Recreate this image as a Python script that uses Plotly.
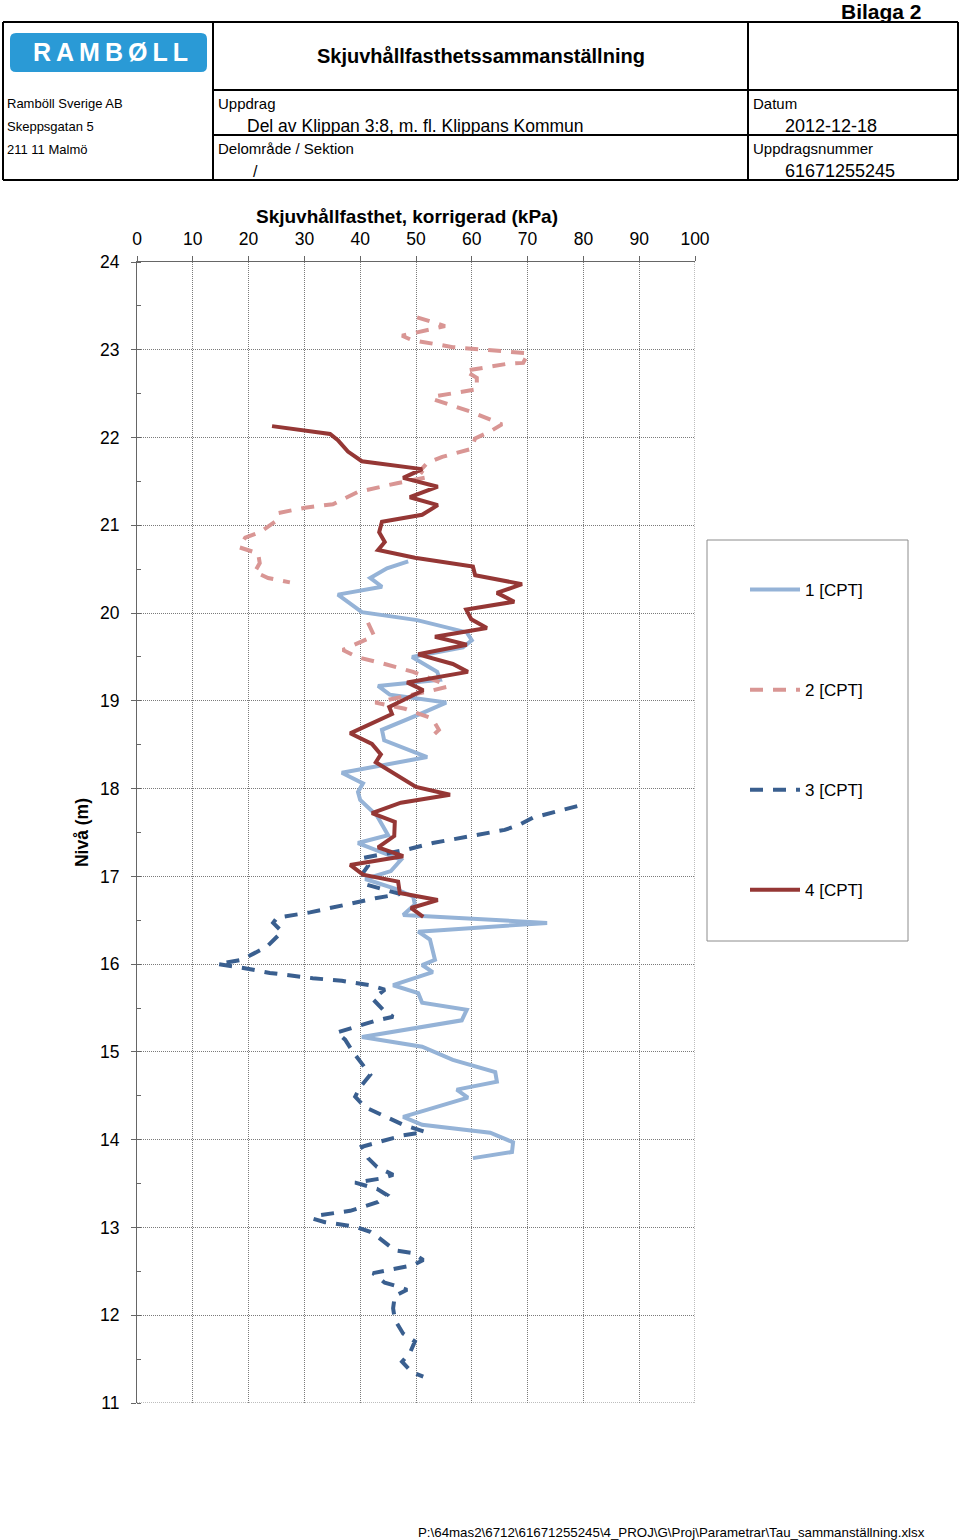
import plotly.graph_objects as go

# ---------------- data ----------------
s1_kpa = [48.6, 44.8, 41.8, 43.9, 36.0, 40.3, 50.2, 59.1, 60.0, 58.4, 49.3, 53.8, 54.3, 43.2, 45.3,
          55.4, 51.1, 43.9, 44.3, 52.0, 36.7, 40.5, 39.6, 40.0, 43.0, 45.0, 39.6, 47.3, 45.5, 40.9,
          46.2, 49.5, 49.8, 47.7, 73.5, 50.4, 52.5, 53.4, 51.1, 53.0, 45.9, 50.4, 51.1, 59.1, 58.2,
          50.2, 40.3, 51.1, 56.6, 64.2, 64.5, 57.3, 59.3, 47.7, 51.1, 63.3, 67.4, 67.2, 60.2]
s1_niva = [20.59, 20.51, 20.40, 20.30, 20.21, 20.01, 19.92, 19.78, 19.69, 19.61, 19.50, 19.33, 19.24, 19.17, 19.07,
           18.98, 18.86, 18.67, 18.55, 18.36, 18.18, 18.06, 17.96, 17.87, 17.69, 17.47, 17.38, 17.19, 17.06, 16.97,
           16.86, 16.77, 16.68, 16.56, 16.47, 16.37, 16.28, 16.05, 15.99, 15.91, 15.76, 15.67, 15.56, 15.48, 15.36,
           15.27, 15.17, 15.06, 14.91, 14.77, 14.66, 14.57, 14.48, 14.26, 14.17, 14.08, 13.97, 13.86, 13.79]

s2_kpa = [50.2, 55.2, 47.5, 49.3, 56.6, 61.8, 67.2, 70.1, 69.2, 66.3, 58.8, 60.9, 60.9, 53.4, 52.9,
          60.0, 65.4, 63.3, 60.6, 59.9, 54.7, 52.0, 50.7, 52.2, 46.6, 39.6, 35.1, 30.1, 25.3, 24.7,
          22.0, 19.4, 18.3, 21.7, 22.0, 21.1, 23.5, 27.4, None,
          41.4, 42.5, 36.9, 39.4, 44.4, 49.5, 54.3, 55.6, 53.0, 42.7, 48.0, 52.9, 54.1, 52.5]
s2_niva = [23.37, 23.27, 23.16, 23.11, 23.03, 23.00, 22.97, 22.96, 22.85, 22.84, 22.76, 22.68, 22.55, 22.47, 22.44,
           22.29, 22.15, 22.07, 21.99, 21.87, 21.78, 21.71, 21.62, 21.55, 21.48, 21.38, 21.24, 21.20, 21.14, 21.04,
           20.92, 20.86, 20.75, 20.68, 20.57, 20.47, 20.40, 20.35, None,
           19.89, 19.74, 19.58, 19.50, 19.42, 19.33, 19.21, 19.16, 19.12, 18.98, 18.91, 18.80, 18.67, 18.57]

s3_kpa = [78.9, 76.3, 72.8, 71.0, 68.6, 65.9, 63.3, 57.9, 53.0, 48.0, 43.2, 40.5, 41.4, 40.5, 40.9,
          47.1, 42.7, 36.9, 31.0, 25.1, 24.4, 26.0, 23.3, 18.8, 14.5, 18.8, 23.8, 31.5, 34.2, 36.7,
          41.8, 44.4, 42.3, 44.1, 45.9, 43.0, 35.8, 37.3, 38.7, 40.5, 41.8, 40.0, 39.1, 40.9, 47.7,
          51.6, 47.7, 40.3, 41.4, 43.0, 45.9, 43.9, 39.1, 43.0, 44.8, 43.2, 38.2, 32.8, 31.5, 33.7,
          39.1, 41.8, 43.2, 46.2, 49.3, 51.3, 49.5, 42.3, 44.4, 46.6, 48.4, 46.2, 45.9, 46.2, 47.7,
          49.8, 48.9, 47.5, 49.3, 51.3]
s3_niva = [17.80, 17.76, 17.70, 17.67, 17.59, 17.53, 17.50, 17.44, 17.38, 17.30, 17.24, 17.21, 17.12, 17.04, 16.91,
           16.80, 16.75, 16.67, 16.59, 16.53, 16.47, 16.37, 16.20, 16.05, 16.00, 15.96, 15.90, 15.84, 15.83, 15.81,
           15.76, 15.71, 15.60, 15.48, 15.40, 15.36, 15.22, 15.14, 15.00, 14.85, 14.74, 14.60, 14.49, 14.37, 14.17,
           14.09, 14.05, 13.92, 13.79, 13.69, 13.60, 13.56, 13.51, 13.44, 13.37, 13.29, 13.19, 13.14, 13.10, 13.06,
           13.01, 12.95, 12.89, 12.74, 12.71, 12.63, 12.57, 12.48, 12.37, 12.33, 12.29, 12.22, 12.08, 11.95, 11.79,
           11.70, 11.57, 11.47, 11.35, 11.30]

s4_kpa = [24.2, 34.6, 36.0, 37.8, 40.3, 51.1, 47.7, 53.9, 48.9, 53.9, 51.1, 43.9, 43.4, 44.4, 43.2,
          49.8, 60.2, 60.6, 69.0, 64.5, 67.6, 59.0, 59.9, 62.7, 53.4, 59.1, 50.4, 56.6, 59.3, 48.4,
          51.3, 45.2, 45.7, 38.2, 42.1, 43.7, 42.8, 50.0, 56.1, 47.3, 42.1, 46.2, 46.1, 43.2, 47.7,
          38.2, 40.5, 46.8, 47.1, 53.9, 49.1, 51.3]
s4_niva = [22.13, 22.04, 21.97, 21.84, 21.73, 21.64, 21.54, 21.44, 21.32, 21.23, 21.12, 21.04, 20.92, 20.81, 20.72,
           20.63, 20.53, 20.43, 20.33, 20.23, 20.13, 20.04, 19.93, 19.83, 19.73, 19.64, 19.53, 19.42, 19.33, 19.21,
           19.12, 18.93, 18.85, 18.63, 18.51, 18.39, 18.30, 18.02, 17.93, 17.84, 17.72, 17.62, 17.46, 17.33, 17.23,
           17.13, 17.02, 16.94, 16.81, 16.73, 16.64, 16.54]

series_names = ["1 [CPT]", "2 [CPT]", "3 [CPT]", "4 [CPT]"]
x_ticks = [0, 10, 20, 30, 40, 50, 60, 70, 80, 90, 100]
y_ticks = [11, 12, 13, 14, 15, 16, 17, 18, 19, 20, 21, 22, 23, 24]

# ---------------- layout helpers ----------------
W, H = 960, 1540
L, R, T, B = 137, 695, 262, 1403
FONT = "Liberation Sans, Arial, sans-serif"


def px(x):
    return (x - L) / (R - L)


def py(y):
    return (B - y) / (B - T)


fig = go.Figure()
styles = [
    dict(color="#95B3D7", width=4, dash="solid"),
    dict(color="#D99694", width=4, dash="13px,10px"),
    dict(color="#3A5F8F", width=4, dash="13px,10px"),
    dict(color="#953735", width=4, dash="solid"),
]
data = [(s1_kpa, s1_niva), (s2_kpa, s2_niva), (s3_kpa, s3_niva), (s4_kpa, s4_niva)]
for i, ((xs, ys), st, nm) in enumerate(zip(data, styles, series_names)):
    fig.add_trace(go.Scatter(x=xs, y=ys, mode="lines", name=nm, line=st,
                             connectgaps=False, legendgroup=f"g{i}"))

shapes = []
line_c = "#000000"


def hline(x0, x1, y, w=2):
    shapes.append(dict(type="line", xref="paper", yref="paper", x0=px(x0), x1=px(x1),
                       y0=py(y), y1=py(y), line=dict(color=line_c, width=w)))


def vline(x, y0, y1, w=2):
    shapes.append(dict(type="line", xref="paper", yref="paper", x0=px(x), x1=px(x),
                       y0=py(y0), y1=py(y1), line=dict(color=line_c, width=w)))


# header table
hline(3, 958, 22)
hline(3, 958, 180)
hline(213, 958, 90)
hline(213, 958, 135)
vline(3, 22, 180)
vline(958, 22, 180)
vline(213, 22, 180)
vline(748, 22, 180)

# logo rounded rectangle
x0, x1, y0, y1, r = 10, 207, 33, 72, 6
path = (f"M {px(x0 + r)},{py(y0)} L {px(x1 - r)},{py(y0)} Q {px(x1)},{py(y0)} {px(x1)},{py(y0 + r)} "
        f"L {px(x1)},{py(y1 - r)} Q {px(x1)},{py(y1)} {px(x1 - r)},{py(y1)} "
        f"L {px(x0 + r)},{py(y1)} Q {px(x0)},{py(y1)} {px(x0)},{py(y1 - r)} "
        f"L {px(x0)},{py(y0 + r)} Q {px(x0)},{py(y0)} {px(x0 + r)},{py(y0)} Z")
shapes.append(dict(type="path", xref="paper", yref="paper", path=path,
                   fillcolor="#2A9AD6", line=dict(width=0)))

# legend box
shapes.append(dict(type="rect", xref="paper", yref="paper", x0=px(707), x1=px(908),
                   y0=py(540), y1=py(941), line=dict(color="#8C8C8C", width=1), fillcolor="rgba(0,0,0,0)"))

# edge grid lines (right at 100, bottom at 11)
grid_style = dict(color="#7A7A7A", width=1, dash="1px,1px")
shapes.append(dict(type="line", xref="x", yref="y", x0=100, x1=100, y0=11, y1=24, line=grid_style))
shapes.append(dict(type="line", xref="x", yref="y", x0=0, x1=100, y0=11, y1=11, line=grid_style))

annotations = []


def text(x, y, s, size=13, bold=False, anchor="left", color="#000"):
    annotations.append(dict(xref="paper", yref="paper", x=px(x), y=py(y), text=(f"<b>{s}</b>" if bold else s),
                            showarrow=False, xanchor=anchor, yanchor="middle",
                            font=dict(family=FONT, size=size, color=color)))


text(881, 11, "Bilaga 2", size=21, bold=True, anchor="center")
text(110, 52, "R\u2009A\u2009M\u2009B\u2009Ø\u2009L\u2009L", size=25, bold=True, anchor="center", color="#FFFFFF")
text(481, 56, "Skjuvhållfasthetssammanställning", size=20, bold=True, anchor="center")
text(5, 104, "Ramböll Sverige AB", size=13)
text(5, 127, "Skeppsgatan 5", size=13)
text(5, 150, "211 11 Malmö", size=13)
text(216, 104, "Uppdrag", size=15)
text(245, 126, "Del av Klippan 3:8, m. fl. Klippans Kommun", size=17.5)
text(216, 149, "Delområde / Sektion", size=15)
text(251, 171, "/", size=16)
text(751, 104, "Datum", size=15)
text(783, 126, "2012-12-18", size=18)
text(751, 149, "Uppdragsnummer", size=15)
text(783, 171, "61671255245", size=18)
text(927, 1532, "P:\\64mas2\\6712\\61671255245\\4_PROJ\\G\\Proj\\Parametrar\\Tau_sammanställning.xlsx",
     size=13.3, anchor="right")
# x-axis title (placed above the top tick labels)
text(407, 217, "Skjuvhållfasthet, korrigerad (kPa)", size=19, bold=True, anchor="center")

fig.update_layout(
    width=W, height=H,
    paper_bgcolor="white", plot_bgcolor="white",
    margin=dict(l=L, r=W - R, t=T, b=H - B, autoexpand=False),
    font=dict(family=FONT, size=17, color="#000"),
    showlegend=True,
    legend=dict(x=px(745), y=py(572), xanchor="left", yanchor="top",
                bgcolor="rgba(0,0,0,0)", borderwidth=0, font=dict(family=FONT, size=17),
                tracegroupgap=75, itemwidth=50),
    shapes=shapes,
    annotations=annotations,
    xaxis=dict(side="top", range=[0, 100], tickvals=x_ticks, showgrid=True, gridcolor="#7A7A7A",
               griddash="1px,1px", gridwidth=1, showline=True, linecolor="#666", linewidth=1,
               ticks="outside", ticklen=5, tickcolor="#666", zeroline=False,
               tickfont=dict(size=17.5), ticklabelstandoff=4),
    yaxis=dict(range=[11, 24], tickvals=y_ticks, showgrid=True, gridcolor="#7A7A7A",
               griddash="1px,1px", gridwidth=1, showline=True, linecolor="#666", linewidth=1,
               ticks="outside", ticklen=5, tickcolor="#666", zeroline=False,
               tickfont=dict(size=17.5), ticklabelstandoff=8,
               minor=dict(dtick=0.5, ticks="inside", ticklen=4, tickcolor="#666", showgrid=False),
               title=dict(text="<b>Nivå (m)</b>", font=dict(size=17.5), standoff=6)),
)

fig.write_html("out.html", config={"displayModeBar": False},
               post_script="document.body.style.margin='0';")
